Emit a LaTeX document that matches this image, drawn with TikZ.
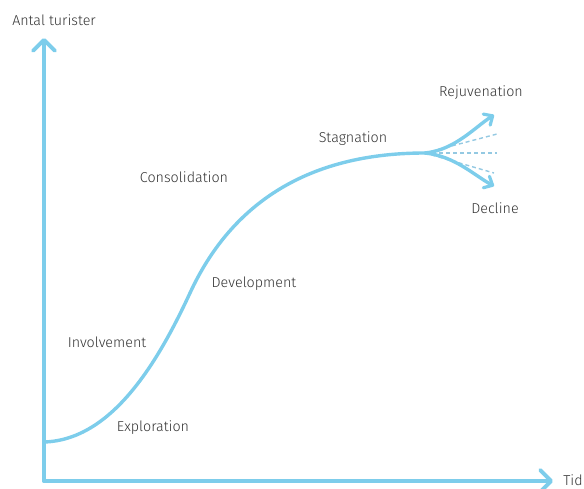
\documentclass[tikz,border=0pt]{standalone}
\usepackage{fontspec}
\setmainfont{Fira Sans}[UprightFont=* Light]
\usetikzlibrary{arrows.meta}
\definecolor{curveblue}{HTML}{7DCDEB}
\definecolor{dashblue}{HTML}{94C9E2}
\definecolor{txt}{HTML}{333333}
\begin{document}
\begin{tikzpicture}[x=1pt,y=-1pt,
  axis/.style={curveblue,line width=3.8pt,line cap=round,line join=round,
    -{Straight Barb[length=11pt,width=22pt,line width=3.8pt,round]}},
  branch/.style={curveblue,line width=3.4pt,line cap=round,
    -{Straight Barb[length=7pt,width=13pt,line width=3.2pt,round]}},
  lifecurve/.style={curveblue,line width=3.4pt,line cap=round},
  scen/.style={dashblue,line width=1.4pt,dash pattern=on 4pt off 3pt},
  lbl/.style={text=txt,font=\fontsize{14.3}{17}\selectfont,inner sep=0pt}]
\useasboundingbox (0,0) rectangle (584,488);
% axes
\coordinate (O) at (44,481);
\coordinate (ytop) at (44,38);
\coordinate (xend) at (553,481);
\draw[axis] (O) -- (ytop);
\draw[axis] (O) -- (xend);
% curve
\coordinate (start) at (44,442);
\coordinate (infl) at (190,293);
\coordinate (split) at (425,153);
\draw[lifecurve] (start) .. controls (112,440) and (158,362) .. (infl)
  .. controls (226,215) and (295,153) .. (split);
% scenario branches
\coordinate (rej) at (494,115);
\coordinate (dec) at (494,186);
\coordinate (d1) at (497,134);
\coordinate (d2) at (497,153);
\coordinate (d3) at (494,173);
\draw[scen] (split) -- (d1);
\draw[scen] (split) -- (d2);
\draw[scen] (split) -- (d3);
\draw[branch] (split) .. controls (455,150) and (475,127) .. (rej);
\draw[branch] (split) .. controls (455,156) and (475,176) .. (dec);
% labels
\node[lbl] (lantal) at (54,20) {Antal turister};
\node[lbl] (ltid) at (573,480) {Tid};
\node[lbl] (lrej) at (481,93) {Rejuvenation};
\node[lbl] (lstag) at (353,139) {Stagnation};
\node[lbl] (lcons) at (184,177) {Consolidation};
\node[lbl] (ldec) at (495,208) {Decline};
\node[lbl] (ldev) at (254,284) {Development};
\node[lbl] (linv) at (107,342) {Involvement};
\node[lbl] (lexp) at (153,428) {Exploration};
\end{tikzpicture}
\end{document}
